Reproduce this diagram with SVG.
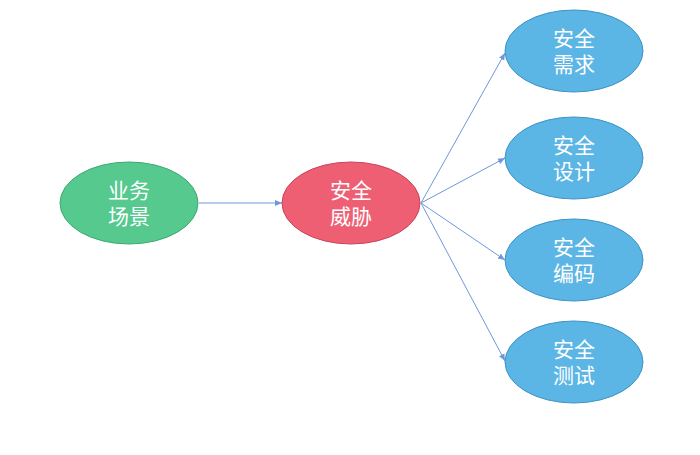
<svg xmlns="http://www.w3.org/2000/svg" width="700" height="455" viewBox="0 0 700 455">
<style>
text{font-family:"Liberation Sans","Noto Sans CJK SC",sans-serif;font-size:21px;fill:#fff;text-anchor:middle}
.c{stroke:#6f97dc;stroke-width:1;fill:none;marker-end:url(#a)}
.g{fill:#56c98f;stroke:#3fa872}
.r{fill:#ee5f74;stroke:#c94459}
.b{fill:#5bb5e5;stroke:#3e93c5}
</style>
<defs><marker id="a" markerWidth="8" markerHeight="8" refX="7" refY="4" orient="auto" markerUnits="userSpaceOnUse"><path d="M0,1 L7,4 L0,7 Z" fill="#6f97dc"/></marker></defs>
<rect width="700" height="455" fill="#fff"/>
<g id="connectors">
<line class="c" x1="199" y1="203" x2="282" y2="203"/>
<line class="c" x1="421" y1="203" x2="505" y2="53"/>
<line class="c" x1="421" y1="203" x2="505" y2="158"/>
<line class="c" x1="421" y1="203" x2="505" y2="260"/>
<line class="c" x1="421" y1="203" x2="505" y2="361"/>
</g>
<g id="n1"><ellipse class="g" cx="129" cy="203" rx="69" ry="41"/><text x="129" y="198">业务</text><text x="129" y="224">场景</text></g>
<g id="n2"><ellipse class="r" cx="351" cy="203" rx="69" ry="41"/><text x="351" y="198">安全</text><text x="351" y="224">威胁</text></g>
<g id="n3"><ellipse class="b" cx="574" cy="51" rx="69" ry="41"/><text x="574" y="46">安全</text><text x="574" y="72">需求</text></g>
<g id="n4"><ellipse class="b" cx="574" cy="158" rx="69" ry="41"/><text x="574" y="153">安全</text><text x="574" y="179">设计</text></g>
<g id="n5"><ellipse class="b" cx="574" cy="260" rx="69" ry="41"/><text x="574" y="255">安全</text><text x="574" y="281">编码</text></g>
<g id="n6"><ellipse class="b" cx="574" cy="362" rx="69" ry="41"/><text x="574" y="357">安全</text><text x="574" y="383">测试</text></g>
</svg>
